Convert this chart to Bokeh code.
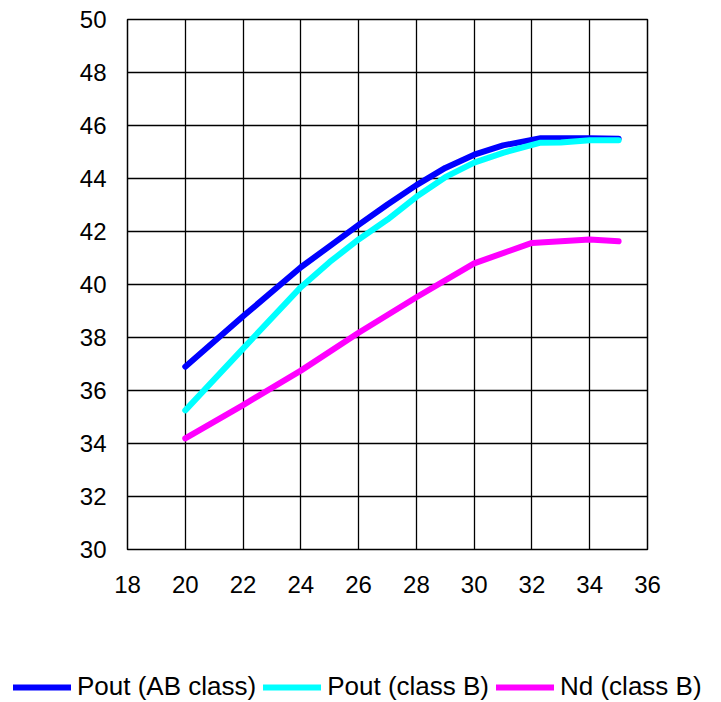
from bokeh.plotting import figure
from bokeh.models import Legend, LegendItem, FixedTicker, Range1d
from bokeh.embed import file_html
from bokeh.resources import INLINE

# Data
x_ab = [20, 22, 24, 25, 26, 27, 28, 29, 30, 31, 32.3, 34, 35]
pout_ab = [36.9, 38.8, 40.65, 41.45, 42.25, 43.02, 43.75, 44.4, 44.9, 45.25, 45.52, 45.52, 45.5]

x_b = [20, 22, 24, 25, 26, 27, 28, 29, 30, 31, 32.3, 33, 34, 35]
pout_b = [35.25, 37.58, 39.9, 40.85, 41.7, 42.45, 43.31, 44.05, 44.6, 44.97, 45.35, 45.36, 45.44, 45.44]

x_nd = [20, 22, 24, 26, 28, 30, 32, 34, 35]
nd_b = [34.19, 35.45, 36.75, 38.18, 39.52, 40.8, 41.57, 41.7, 41.63]

x_ticks = [18, 20, 22, 24, 26, 28, 30, 32, 34, 36]
y_ticks = [30, 32, 34, 36, 38, 40, 42, 44, 46, 48, 50]

labels = ["Pout (AB class)", "Pout (class B)", "Nd (class B)"]
colors = ["#0000FF", "#00FFFF", "#FF00FF"]

FONT = "Liberation Sans"

p = figure(frame_width=520, frame_height=530,
           min_border_left=127, min_border_top=19, min_border_right=66,
           min_border_bottom=91,
           output_backend="svg", toolbar_location=None,
           x_range=Range1d(18, 36), y_range=Range1d(30, 50))

p.outline_line_color = "black"
p.outline_line_width = 1.5
p.background_fill_color = "white"
p.border_fill_color = "white"

for ax in (p.xaxis[0], p.yaxis[0]):
    ax.axis_line_color = None
    ax.major_tick_line_color = None
    ax.minor_tick_line_color = None
    ax.major_tick_out = 0
    ax.major_tick_in = 0
    ax.major_label_text_font = FONT
    ax.major_label_text_font_size = "24px"
    ax.major_label_text_color = "black"

p.xaxis[0].ticker = FixedTicker(ticks=x_ticks)
p.yaxis[0].ticker = FixedTicker(ticks=y_ticks)
p.xaxis[0].major_label_standoff = 26
p.yaxis[0].major_label_standoff = 21

p.xgrid[0].ticker = FixedTicker(ticks=x_ticks)
p.ygrid[0].ticker = FixedTicker(ticks=y_ticks)
for g in (p.xgrid[0], p.ygrid[0]):
    g.grid_line_color = "black"
    g.grid_line_width = 1.3
    g.grid_line_alpha = 1.0

line_kw = dict(line_width=6, line_cap="round", line_join="round")
p.line(x_ab, pout_ab, line_color=colors[0], **line_kw)
p.line(x_b, pout_b, line_color=colors[1], **line_kw)
p.line(x_nd, nd_b, line_color=colors[2], **line_kw)

# Legend strip below the chart, a separate root so its frame spans the full width.
# Its own copies of the series lie outside its view range, so only the legend entries show.
leg = figure(width=713, height=62, min_border=0, output_backend="svg",
             toolbar_location=None, x_range=Range1d(0, 1), y_range=Range1d(0, 1))
leg.axis.visible = False
leg.grid.visible = False
leg.outline_line_color = None
leg.background_fill_color = "white"
leg.border_fill_color = "white"

items = []
for lab, col, xs, ys in zip(labels, colors, [x_ab, x_b, x_nd], [pout_ab, pout_b, nd_b]):
    r = leg.line(xs, ys, line_color=col, **line_kw)
    items.append(LegendItem(label=lab, renderers=[r]))

legend = Legend(items=items,
                orientation="horizontal",
                location=(13, 0),
                label_text_font=FONT, label_text_font_size="26px",
                label_text_color="black",
                glyph_width=58, glyph_height=26, label_height=26,
                label_standoff=6, spacing=7,
                padding=0, margin=0,
                border_line_color=None, background_fill_alpha=0)
leg.add_layout(legend, "center")

open("out.html", "w").write(file_html([p, leg], INLINE))
